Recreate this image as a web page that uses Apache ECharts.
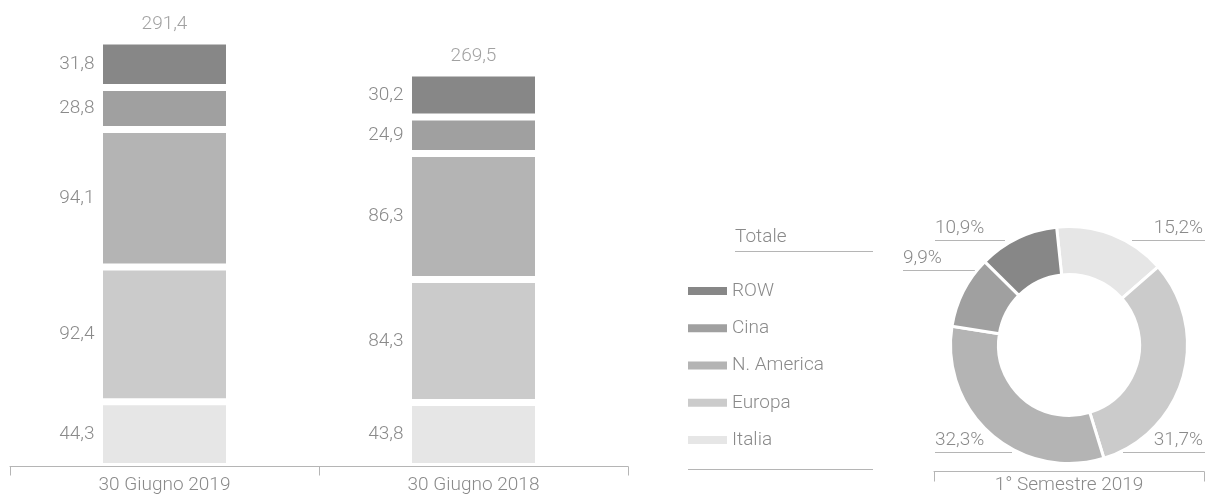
<!DOCTYPE html>
<html>
<head>
<meta charset="utf-8">
<script src="https://cdn.jsdelivr.net/npm/echarts@6/dist/echarts.min.js"></script>
<style>
  html, body { margin: 0; padding: 0; background: #fff; }
  #chart { width: 1205px; height: 496px; }
</style>
</head>
<body>
<div id="chart"></div>
<script>
// dati
const categories = ['30 Giugno 2019', '30 Giugno 2018']
const areas = ['Italia', 'Europa', 'N. America', 'Cina', 'ROW']
const italia = [44.3, 43.8]
const europa = [92.4, 84.3]
const nAmerica = [94.1, 86.3]
const cina = [28.8, 24.9]
const row = [31.8, 30.2]
const totals = [291.4, 269.5]
const pieCategory = ['1° Semestre 2019']
// la torta usa i valori del 2019 (colonna 0)
const pieValues = [italia[0], europa[0], nAmerica[0], cina[0], row[0]]

const colors = ['#e6e6e6', '#cbcbcb', '#b4b4b4', '#a0a0a0', '#878787']
const textColor = '#8a8a8a'
const lineColor = '#b5b5b5'
const fontFamily = 'Roboto, "Liberation Sans", sans-serif'
const fontSize = 19

// posizione etichette torta: linea da x0 a x1 ad altezza y, testo sul lato esterno
const pieLabelPos = [
    { x0: 1132, x1: 1205, y: 240.5, side: 'right' },
    { x0: 1123, x1: 1205, y: 452.5, side: 'right' },
    { x0: 935, x1: 1012, y: 452.5, side: 'left' },
    { x0: 903, x1: 975, y: 270.5, side: 'left' },
    { x0: 935, x1: 1005, y: 240.5, side: 'left' }
]

function fmt(v) {
    return Number(v).toFixed(1).replace('.', ',')
}

const seriesData = [italia, europa, nAmerica, cina, row]

const chart = echarts.init(document.getElementById('chart'))

const barSeries = areas.map((name, i) => ({
    name: name,
    type: 'bar',
    stack: 'tot',
    barWidth: 130,
    xAxisIndex: 0,
    yAxisIndex: 0,
    data: seriesData[i],
    itemStyle: {
        color: colors[i],
        borderColor: '#fff',
        borderWidth: 3.5
    },
    label: {
        show: true,
        position: 'left',
        distance: 5,
        color: textColor,
        fontFamily: fontFamily,
        fontWeight: 300,
        fontSize: fontSize,
        formatter: p => fmt(p.value)
    },
    emphasis: { disabled: true }
}))

const option = {
    animation: false,
    backgroundColor: '#fff',
    color: colors,
    grid: [
        { left: 10, width: 618, top: 28.5, bottom: 29.5 },
        { left: 934, width: 270, top: 440, bottom: 24.5 }
    ],
    xAxis: [
        {
            type: 'category',
            gridIndex: 0,
            data: categories,
            offset: 3,
            z: 10,
            axisLine: { lineStyle: { color: lineColor, width: 1 } },
            axisTick: { show: true, length: 9, lineStyle: { color: lineColor } },
            axisLabel: {
                color: textColor,
                fontFamily: fontFamily,
                fontWeight: 300,
                fontSize: fontSize,
                margin: 6
            }
        },
        {
            type: 'category',
            gridIndex: 1,
            data: pieCategory,
            z: 10,
            axisLine: { lineStyle: { color: lineColor, width: 1 } },
            axisTick: { show: true, length: 10, lineStyle: { color: lineColor } },
            axisLabel: {
                color: textColor,
                fontFamily: fontFamily,
                fontWeight: 300,
                fontSize: fontSize,
                margin: 4
            }
        }
    ],
    yAxis: [
        { type: 'value', gridIndex: 0, min: 0, max: 300, show: false },
        { type: 'value', gridIndex: 1, show: false }
    ],
    legend: {
        orient: 'vertical',
        left: 683,
        top: 276.5,
        icon: 'rect',
        itemWidth: 39,
        itemHeight: 8,
        itemGap: 18.25,
        itemTextGap: 8,
        itemStyle: { borderWidth: 0 },
        selectedMode: false,
        data: ['ROW', 'Cina', 'N. America', 'Europa', 'Italia'],
        textStyle: {
            color: textColor,
            fontFamily: fontFamily,
            fontWeight: 300,
            fontSize: fontSize
        }
    },
    graphic: [
        {
            type: 'text',
            left: 735,
            top: 228,
            style: {
                text: 'Totale',
                fill: textColor,
                font: '300 ' + fontSize + 'px ' + fontFamily
            }
        },
        {
            type: 'line',
            shape: { x1: 735, y1: 251.5, x2: 873, y2: 251.5 },
            style: { stroke: lineColor, lineWidth: 1 }
        },
        {
            type: 'line',
            shape: { x1: 688, y1: 469.5, x2: 873, y2: 469.5 },
            style: { stroke: lineColor, lineWidth: 1 }
        }
    ],
    series: barSeries.concat([
        {
            name: 'Totale',
            type: 'scatter',
            xAxisIndex: 0,
            yAxisIndex: 0,
            symbolSize: 0,
            data: totals,
            label: {
                show: true,
                position: 'top',
                distance: 7,
                color: textColor,
                fontFamily: fontFamily,
                fontWeight: 300,
                fontSize: fontSize,
                formatter: p => fmt(p.value)
            },
            emphasis: { disabled: true },
            z: 5
        },
        {
            name: '1° Semestre 2019',
            type: 'pie',
            center: [1069, 345],
            radius: [70.5, 118.5],
            startAngle: 96,
            clockwise: true,
            avoidLabelOverlap: false,
            percentPrecision: 1,
            itemStyle: { borderColor: '#fff', borderWidth: 3 },
            emphasis: { disabled: true },
            data: areas.map((name, i) => ({
                name: name,
                value: pieValues[i],
                itemStyle: { color: colors[i] }
            })),
            label: {
                show: true,
                position: 'outside',
                color: textColor,
                fontFamily: fontFamily,
                fontWeight: 300,
                fontSize: fontSize,
                formatter: p => fmt(p.percent) + '%'
            },
            labelLine: {
                show: true,
                length: 10,
                length2: 10,
                lineStyle: { color: lineColor, width: 1 }
            },
            labelLayout: function (params) {
                const p = pieLabelPos[params.dataIndex]
                const right = p.side === 'right'
                return {
                    x: right ? p.x1 - 2 : p.x0,
                    y: p.y - 12,
                    align: right ? 'right' : 'left',
                    verticalAlign: 'middle',
                    hideOverlap: false,
                    moveOverlap: false,
                    labelLinePoints: [[right ? p.x0 : p.x1, p.y], [right ? p.x0 : p.x1, p.y], [right ? p.x1 : p.x0, p.y]]
                }
            }
        }
    ])
}

chart.setOption(option)
</script>
</body>
</html>
